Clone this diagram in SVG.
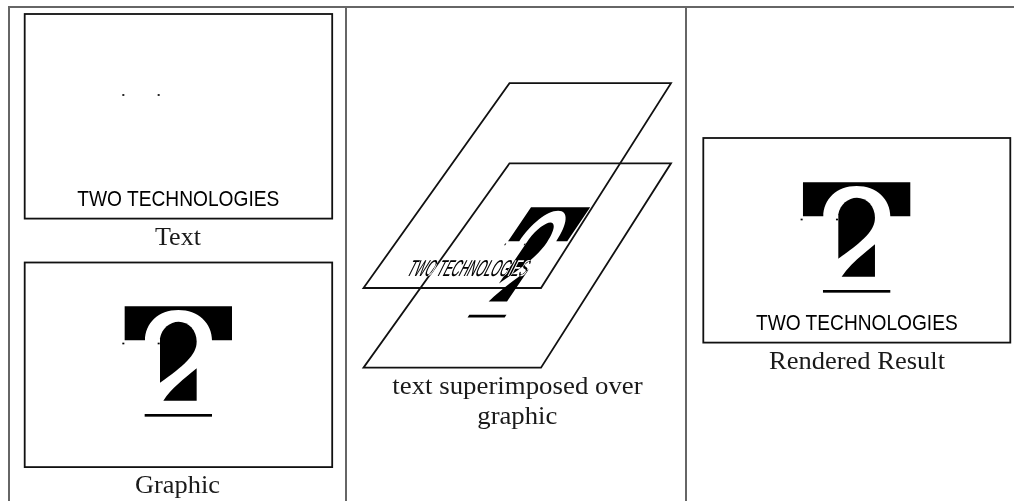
<svg xmlns="http://www.w3.org/2000/svg" xmlns:xlink="http://www.w3.org/1999/xlink" width="1014" height="501" viewBox="0 0 1014 501">
<style>
.grid{fill:#666}
.panel{fill:none;stroke:#111;stroke-width:1.8}
.cap{font-family:"Liberation Serif",serif;font-size:25px;fill:#1a1a1a;text-anchor:start}
.logotext{font-family:"Liberation Sans",Arial,sans-serif;font-size:22px;fill:#000}
.mix{font-family:"Liberation Sans",Arial,sans-serif;font-size:23px;fill:#fff;mix-blend-mode:difference}
</style>
<defs>
<g id="mark" transform="scale(.33333)">
<path d="M314,139H636V241H576C576,190 535,150 475,150C415,150 375,190 375,241H314Z"/>
<path d="M420,368V235C425,205 450,185 476,185C505,185 530,210 530,245C530,285 490,318 420,368Z"/>
<path d="M530,325V422H430C455,385 490,358 530,325Z"/>
<rect x="374" y="462" width="202" height="8"/>
</g>
<g id="dots" transform="scale(.33333)">
<rect x="307" y="248" width="6" height="5"/>
<rect x="413" y="248" width="6" height="5"/>
</g>
</defs>
<rect width="1014" height="501" fill="#fff"/>
<g id="table">
<rect class="grid" x="8" y="6" width="1006" height="2"/>
<rect class="grid" x="8" y="6" width="2" height="495"/>
<rect class="grid" x="345" y="6" width="2" height="495"/>
<rect class="grid" x="685" y="6" width="2" height="495"/>
</g>
<g id="text-panel">
<rect class="panel" x="24.7" y="14" width="307.5" height="204.6"/>
<use xlink:href="#dots" href="#dots" transform="translate(20,11.5)"/>
<text class="logotext" x="77.3" y="206" textLength="202" lengthAdjust="spacingAndGlyphs">TWO TECHNOLOGIES</text>
<text class="cap" x="155" y="245" textLength="46" lengthAdjust="spacingAndGlyphs">Text</text>
</g>
<g id="graphic-panel">
<rect class="panel" x="24.7" y="262.5" width="307.5" height="204.6"/>
<use xlink:href="#mark" href="#mark" transform="translate(20,260)"/>
<use xlink:href="#dots" href="#dots" transform="translate(20,260)"/>
<text class="cap" x="135" y="492.5" textLength="85" lengthAdjust="spacingAndGlyphs">Graphic</text>
</g>
<g id="superimposed-panel">
<path class="panel" d="M509.5,83.2H671L541,288H363.5Z"/>
<path class="panel" d="M509.5,163.3H671L541,367.7H363.5Z"/>
<use xlink:href="#mark" href="#mark" transform="matrix(.5513 0 -.6751 1 504.59 160.8)"/>
<use xlink:href="#dots" href="#dots" transform="matrix(.5513 0 -.6751 1 504.59 160.8)"/>
<text class="mix" transform="matrix(.59 0 -.5 1 405.5 276)" x="0" y="0" textLength="202" lengthAdjust="spacingAndGlyphs">TWO TECHNOLOGIES</text>
<text class="cap" x="392.3" y="394" textLength="250.4" lengthAdjust="spacingAndGlyphs">text superimposed over</text>
<text class="cap" x="477.3" y="424" textLength="80" lengthAdjust="spacingAndGlyphs">graphic</text>
</g>
<g id="result-panel">
<rect class="panel" x="703.3" y="138" width="307" height="204.6"/>
<use xlink:href="#mark" href="#mark" transform="translate(698.3,136)"/>
<use xlink:href="#dots" href="#dots" transform="translate(698.3,136)"/>
<text class="logotext" x="756" y="330" textLength="201.7" lengthAdjust="spacingAndGlyphs">TWO TECHNOLOGIES</text>
<text class="cap" x="769" y="368.5" textLength="176" lengthAdjust="spacingAndGlyphs">Rendered Result</text>
</g>
</svg>
